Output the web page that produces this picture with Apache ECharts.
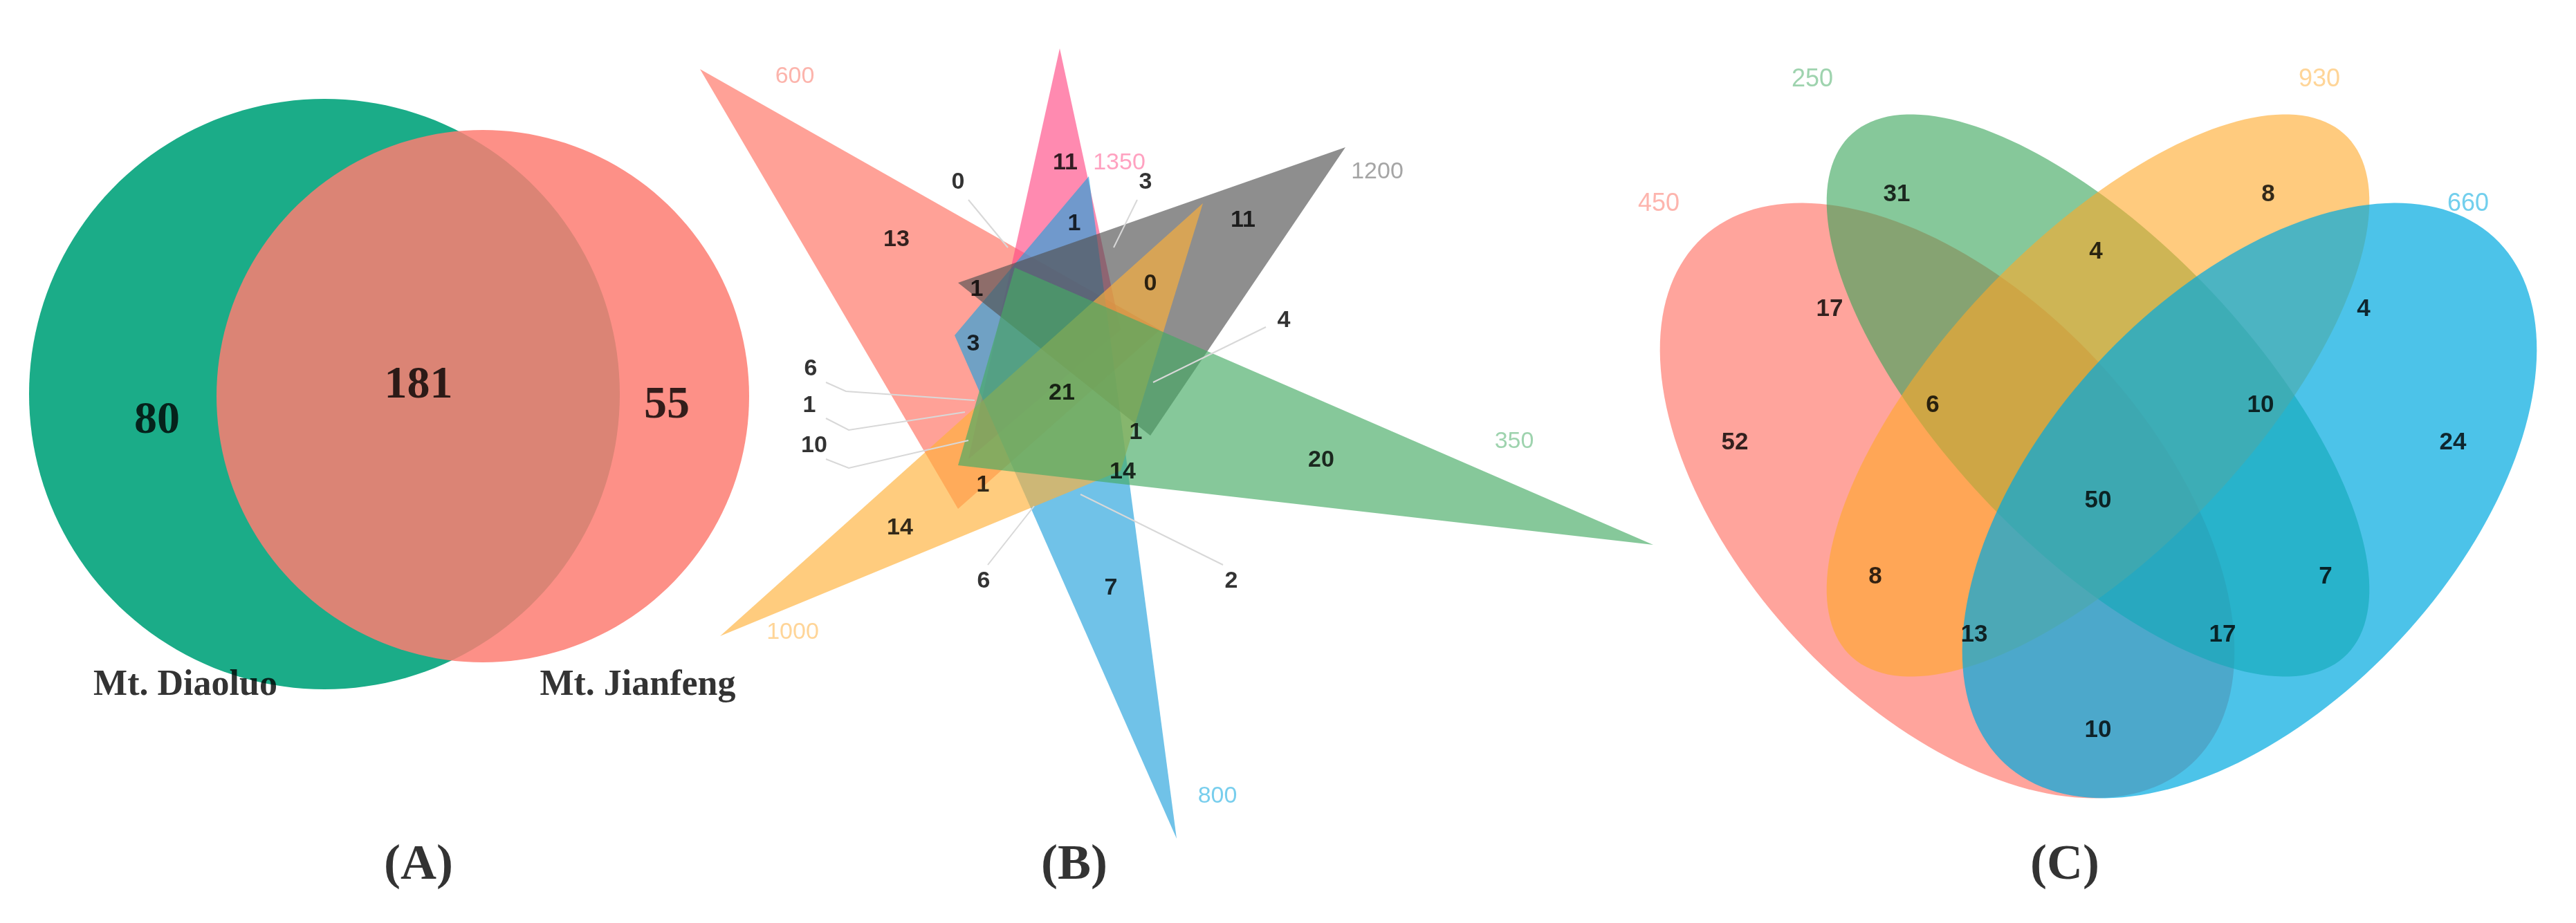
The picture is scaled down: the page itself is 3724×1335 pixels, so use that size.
<!DOCTYPE html>
<html><head><meta charset="utf-8">
<script src="https://cdn.jsdelivr.net/npm/echarts@6/dist/echarts.min.js"></script>
<style>html,body{margin:0;padding:0;background:#fff}#c{width:3724px;height:1335px}</style>
</head><body><div id="c"></div>
<script>
// ---------- Panel A: two circles ----------
const setsA = ['Mt. Diaoluo', 'Mt. Jianfeng'];
const countsA = [80, 181, 55];          // only Diaoluo, shared, only Jianfeng
const circlesA = [[469, 570, 427], [698, 573, 385]];   // cx, cy, r
const colorsA = ['#1BAC88', '#FD7D72'];
const countPosA = [[227, 609], [605, 558], [964, 587]];
const setLabelPosA = [[268, 992], [922, 992]];

// ---------- Panel B: six triangles ----------
const setsB = ['600', '1350', '800', '1200', '1000', '350'];
const colorsB = ['#FF6F5F', '#FF4B86', '#23A2DC', '#525252', '#FFB139', '#45AB64'];
const labelColorsB = ['#FBA197', '#FF8AB0', '#56C2E8', '#8E8E8E', '#FFCB7E', '#86C89A'];
const trianglesB = [
  [[1012, 100], [1677, 477], [1385, 736]],
  [[1532, 70], [1400, 664], [1620, 477]],
  [[1574, 255], [1380, 485], [1701, 1213]],
  [[1945, 213], [1385, 409], [1663, 630]],
  [[1041, 920], [1739, 294], [1620, 681]],
  [[2390, 788], [1467, 387], [1385, 673]]
];
const setLabelPosB = [[1149, 111], [1618, 236], [1760, 1152], [1991, 249], [1146, 915], [2189, 639]];
const countsB = [11, 0, 3, 13, 1, 11, 1, 0, 4, 3, 6, 21, 1, 10, 1, 20, 14, 1, 14, 6, 7, 2];
const countPosB = [[1540,236],[1385,264],[1656,264],[1296,347],[1553,324],[1797,319],[1412,419],[1663,411],[1856,464],[1407,498],[1172,534],[1535,569],[1170,587],[1177,645],[1642,626],[1910,666],[1623,683],[1421,702],[1301,764],[1422,841],[1606,851],[1780,841]];
const leadersB = [
  [[1400,289],[1457,358]],
  [[1644,289],[1610,358]],
  [[1830,473],[1667,553]],
  [[1194,553],[1223,566],[1409,579]],
  [[1194,605],[1227,622],[1395,596]],
  [[1194,664],[1227,677],[1400,637]],
  [[1428,817],[1495,732]],
  [[1768,817],[1562,715]]
];

// ---------- Panel C: four ellipses ----------
const setsC = ['450', '250', '930', '660'];
const colorsC = ['#FF675A', '#35A357', '#FFA828', '#00A9E0'];
const opacC = [0.6, 0.6, 0.6, 0.7];
const labelColorsC = ['#FCA29A', '#86C89A', '#FFCB7E', '#4FC3E8'];
// cx, cy, semi-major, semi-minor (diagram units), rotation deg (y-up)
const ellipsesC = [
  [2815, 724, 0.35, 0.20, 135],
  [3033, 572, 0.35, 0.15, 135],
  [3033, 572, 0.35, 0.15, 45],
  [3252, 724, 0.35, 0.20, 45]
];
const unitC = [1457, 1510];
const setLabelPosC = [[2398, 295], [2620, 115], [3353, 115], [3568, 295]];
const countsC = [31, 8, 4, 17, 4, 52, 6, 10, 24, 50, 8, 7, 13, 17, 10];
const countPosC = [[2742,281],[3279,281],[3030,364],[2645,447],[3417,447],[2508,640],[2794,586],[3268,586],[3546,640],[3033,724],[2711,834],[3362,834],[2854,918],[3213,918],[3033,1056]];

const panelTitles = ['(A)', '(B)', '(C)'];
const panelTitlePos = [[605, 1252], [1553, 1252], [2985, 1252]];

// ---------- build ----------
function circlePts(c) {
  const p = [];
  for (let i = 0; i < 180; i++) { const t = i / 180 * 2 * Math.PI; p.push([c[0] + c[2] * Math.cos(t), c[1] + c[2] * Math.sin(t)]); }
  return p;
}
function ellipsePts(e) {
  const p = [], r = e[4] * Math.PI / 180;
  for (let i = 0; i < 180; i++) {
    const t = i / 180 * 2 * Math.PI;
    const ux = e[2] * Math.cos(t), uy = e[3] * Math.sin(t);
    const rx = ux * Math.cos(r) - uy * Math.sin(r), ry = ux * Math.sin(r) + uy * Math.cos(r);
    p.push([e[0] + rx * unitC[0], e[1] - ry * unitC[1]]);
  }
  return p;
}
function polySeries(pts, color, opacity) {
  return {
    type: 'custom', coordinateSystem: 'cartesian2d', silent: true,
    data: [[0, 0]],
    renderItem: function (params, api) {
      return { type: 'polygon', shape: { points: pts.map(q => api.coord(q)) }, style: { fill: color, opacity: opacity } };
    }
  };
}
function textSeries(items, font) {
  return {
    type: 'scatter', symbolSize: 0, silent: true, z: 10,
    data: items.map(it => ({ value: it.pos, label: { show: true, position: 'inside', formatter: String(it.text), color: it.color || '#000', fontSize: font.size, fontWeight: font.weight, fontFamily: font.family } }))
  };
}
const series = [];
circlesA.forEach((c, i) => series.push(polySeries(circlePts(c), colorsA[i], i === 0 ? 1 : 0.85)));
trianglesB.forEach((t, i) => series.push(polySeries(t, colorsB[i], 0.65)));
ellipsesC.forEach((e, i) => series.push(polySeries(ellipsePts(e), colorsC[i], opacC[i])));
series.push({
  type: 'lines', coordinateSystem: 'cartesian2d', polyline: true, silent: true, z: 5,
  lineStyle: { color: '#d8d8d8', width: 2, opacity: 1 },
  data: leadersB.map(l => ({ coords: l }))
});
series.push(textSeries(countsA.map((v, i) => ({ text: v, pos: countPosA[i] })), { size: 66, weight: 'bold', family: 'Liberation Serif' }));
series.push(textSeries(setsA.map((v, i) => ({ text: v, pos: setLabelPosA[i] })), { size: 52, weight: 'bold', family: 'Liberation Serif' }));
series.push(textSeries(panelTitles.map((v, i) => ({ text: v, pos: panelTitlePos[i] })), { size: 72, weight: 'bold', family: 'Liberation Serif' }));
series.push(textSeries(setsB.map((v, i) => ({ text: v, pos: setLabelPosB[i], color: labelColorsB[i] })), { size: 34, weight: 'normal', family: 'Liberation Sans' }));
series.push(textSeries(countsB.map((v, i) => ({ text: v, pos: countPosB[i] })), { size: 34, weight: 'bold', family: 'Liberation Sans' }));
series.push(textSeries(setsC.map((v, i) => ({ text: v, pos: setLabelPosC[i], color: labelColorsC[i] })), { size: 36, weight: 'normal', family: 'Liberation Sans' }));
series.push(textSeries(countsC.map((v, i) => ({ text: v, pos: countPosC[i] })), { size: 35, weight: 'bold', family: 'Liberation Sans' }));

const chart = echarts.init(document.getElementById('c'));
chart.setOption({
  animation: false,
  backgroundColor: '#fff',
  grid: { left: 0, right: 0, top: 0, bottom: 0 },
  xAxis: { type: 'value', min: 0, max: 3724, show: false },
  yAxis: { type: 'value', min: 0, max: 1335, inverse: true, show: false },
  series: series
});
</script></body></html>
